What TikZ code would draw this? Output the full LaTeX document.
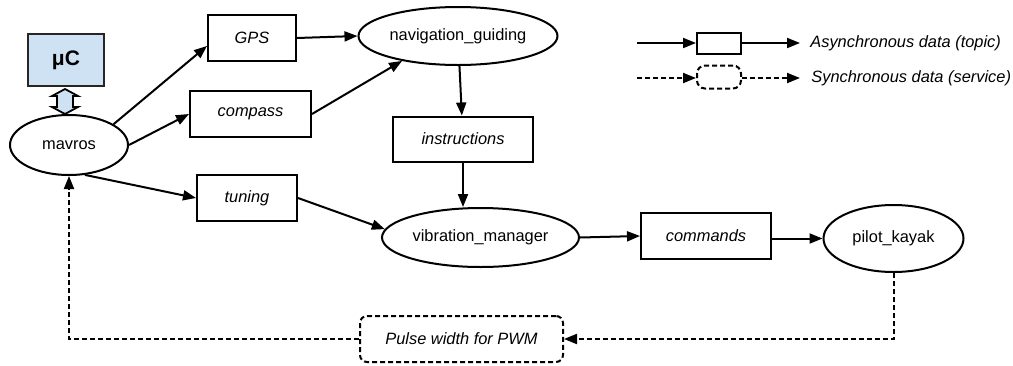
\documentclass[tikz,border=0pt]{standalone}
\usepackage{fontspec}
\setmainfont{Liberation Sans}
\usetikzlibrary{positioning,arrows.meta,shapes.geometric}
\definecolor{mcblue}{HTML}{CFE2F3}

\begin{document}
\begin{tikzpicture}[
    x=0.5pt, y=-0.5pt,
    font=\fontsize{8.2}{10}\selectfont,
    topic/.style={
        rectangle,
        draw=black,
        line width=1pt,
        inner sep=0pt,
        minimum height=23pt,
        font=\fontsize{8.2}{10}\selectfont\itshape
    },
    proc/.style={ellipse, draw=black, line width=1pt, inner sep=0pt},
    service/.style={topic, rounded corners=3.5pt, dash pattern=on 2.5pt off 1.5pt},
    arrow/.style={-{Triangle[length=6.5pt,width=5pt]}, line width=1pt, black},
    dasharrow/.style={arrow, dash pattern=on 2.5pt off 1.5pt}
]
\useasboundingbox (0,0) rectangle (1013,365);

\node[rectangle, draw=black!85, line width=1pt, fill=mcblue, minimum width=38pt, minimum height=26pt,
      font=\fontsize{10.5}{12}\selectfont\bfseries] (uc) at (66,60) {μC};
\node[proc, minimum width=59pt, minimum height=30pt] (mavros) at (69,145) {mavros};
\draw[shift={(uc.south)}, fill=mcblue, line width=0.9pt, line join=miter]
    (-1,2) -- (12,9) -- (7,9) -- (7,20) -- (12,20) -- (-1,27) -- (-14,20) -- (-9,20) -- (-9,9) -- (-14,9) -- cycle;

\node[topic, minimum width=44pt] (gps) at (252,38) {GPS};
\node[topic, minimum width=60.5pt] (compass) at (250.5,114) {compass};
\node[topic, minimum width=50pt] (tuning) at (247,198) {tuning};
\node[proc, minimum width=99.5pt, minimum height=29pt] (nav) at (458,36) {navigation\_guiding};
\node[topic, minimum width=70pt, minimum height=22.5pt] (instr) at (463,139) {instructions};
\node[proc, minimum width=98.5pt, minimum height=29.5pt] (vib) at (480.5,237.5) {vibration\_manager};
\node[topic, minimum width=65pt] (cmd) at (706,236) {commands};
\node[proc, minimum width=70pt, minimum height=33.5pt] (pilot) at (893.5,238.5) {pilot\_kayak};
\node[service, minimum width=101.5pt] (pwm) at (461.5,339) {Pulse width for PWM};

\draw[arrow] (mavros.25) -- (gps.190);
\draw[arrow] (mavros.east) -- (compass.west);
\draw[arrow] (mavros.-62) -- (tuning.west);
\draw[arrow] (gps.east) -- (nav.west);
\draw[arrow] (compass.east) -- (nav.204);
\draw[arrow] (nav) -- (instr);
\draw[arrow] (instr.south) -- (instr.south |- vib.north);
\draw[arrow] (tuning.east) -- (vib.175);
\draw[arrow] (vib.east) -- (cmd.west);
\draw[arrow] (pilot.west -| cmd.east) -- (pilot.west);
\draw[dasharrow] (pilot.south) |- (pwm.east);
\draw[dasharrow] (pwm.west) -| (mavros.south);

% legend
\node[topic, minimum width=22pt, minimum height=10.5pt] (leg1) at (719,43) {};
\node[service, minimum width=22pt, minimum height=11.5pt, rounded corners=4pt] (leg2) at (719,77) {};
\coordinate (leg1in) at (637,43);
\coordinate (leg1out) at (800,43);
\coordinate (leg2in) at (637,78);
\coordinate (leg2out) at (800,78);
\node[anchor=west, inner sep=0pt, font=\fontsize{8.2}{10}\selectfont\itshape] (leg1txt) at (810,43) {Asynchronous data (topic)};
\node[anchor=west, inner sep=0pt, font=\fontsize{8.2}{10}\selectfont\itshape] (leg2txt) at (811,78) {Synchronous data (service)};
\draw[arrow] (leg1in) -- (leg1.west);
\draw[arrow] (leg1.east) -- (leg1out);
\draw[dasharrow] (leg2in) -- (leg2.west |- leg2in);
\draw[dasharrow] (leg2.east |- leg2out) -- (leg2out);
\end{tikzpicture}
\end{document}
